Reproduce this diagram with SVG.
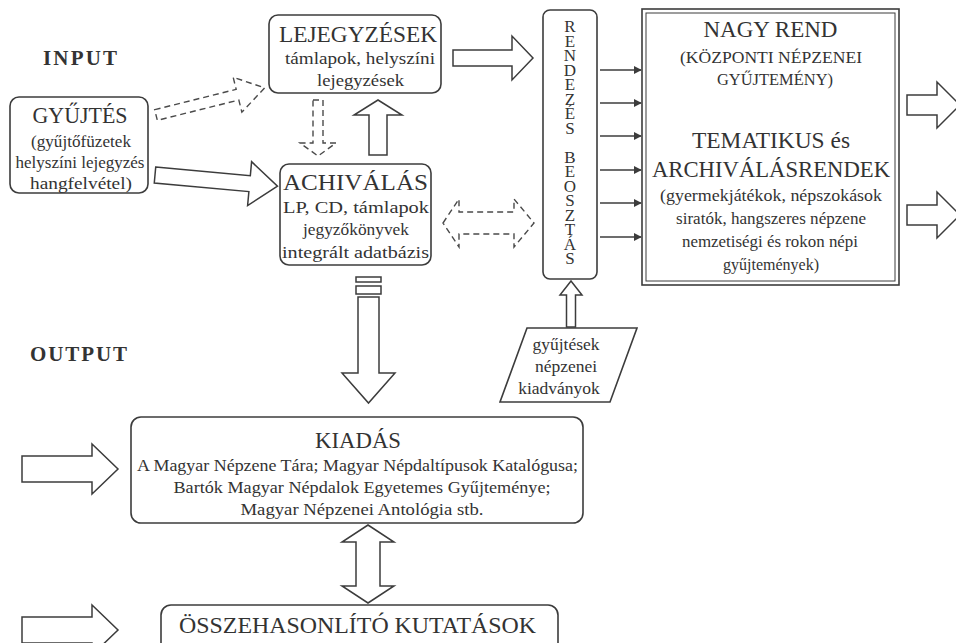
<svg xmlns="http://www.w3.org/2000/svg" width="956" height="643" viewBox="0 0 956 643">
<defs>
<style>
.bg{fill:#ffffff}
.box{fill:#ffffff;stroke:#3c3c3c;stroke-width:1.6}
.arr{fill:#ffffff;stroke:#3c3c3c;stroke-width:1.5;stroke-linejoin:miter}
.dash{fill:none;stroke:#4a4a4a;stroke-width:1.4;stroke-dasharray:6 4}
.ln{stroke:#3c3c3c;stroke-width:1.5;fill:none}
text{font-family:"Liberation Serif","Times New Roman",serif;fill:#333333;text-anchor:middle}
.t{font-size:22.5px}
.b{font-size:17.5px}
.lab{font-size:21px;font-weight:bold;text-anchor:start}
.v{font-size:17px;writing-mode:vertical-rl;text-orientation:upright;letter-spacing:-4.5px;text-anchor:start}
</style>
<marker id="ah" viewBox="0 0 10 10" refX="9" refY="5" markerWidth="8" markerHeight="8" markerUnits="userSpaceOnUse" orient="auto">
<path d="M0,0 L10,5 L0,10 Z" fill="#3c3c3c"/>
</marker>
</defs>
<rect class="bg" x="0" y="0" width="956" height="643"/>

<text class="lab" x="43" y="65" textLength="74" lengthAdjust="spacing">INPUT</text>
<text class="lab" x="30" y="361" textLength="97" lengthAdjust="spacing">OUTPUT</text>

<g id="connectors">
<polygon class="dash" transform="translate(156,115) rotate(-14)" points="0,-5.5 84,-5.5 84,-18 112,0 84,18 84,5.5 0,5.5 Z"/>
<polygon class="arr" transform="translate(155,175) rotate(5.2)" points="0,-8 95,-8 95,-22 123,0 95,22 95,8 0,8"/>
<polygon class="dash" points="313,100 323,100 323,143 336,143 318,156 300,143 313,143 Z"/>
<polygon class="arr" points="369,155 369,115 354,115 378,100 402,115 387,115 387,155"/>
<polygon class="arr" points="453,50 512,50 512,36 533,58 512,80 512,66 453,66"/>
<polygon class="dash" points="443,223 459,199 459,212 514,212 514,199 534,223 514,247 514,234 459,234 459,247 Z"/>
<line class="ln" x1="600" y1="70" x2="641" y2="70" marker-end="url(#ah)"/>
<line class="ln" x1="600" y1="103" x2="641" y2="103" marker-end="url(#ah)"/>
<line class="ln" x1="600" y1="136" x2="641" y2="136" marker-end="url(#ah)"/>
<line class="ln" x1="600" y1="170" x2="641" y2="170" marker-end="url(#ah)"/>
<line class="ln" x1="600" y1="203" x2="641" y2="203" marker-end="url(#ah)"/>
<line class="ln" x1="600" y1="237" x2="641" y2="237" marker-end="url(#ah)"/>
<polygon class="arr" points="907,95 937,95 937,82 960,105 937,128 937,115 907,115"/>
<polygon class="arr" points="907,205 937,205 937,192 960,215 937,238 937,225 907,225"/>
<polygon class="arr" points="566.5,327 566.5,295 560,295 571,281 582,295 575.5,295 575.5,327"/>
<rect class="arr" x="356" y="277" width="25" height="5"/>
<rect class="arr" x="356" y="286" width="25" height="8"/>
<polygon class="arr" points="358,297 379,297 379,373 395,373 368.5,403 342,373 358,373 Z"/>
<polygon class="arr" points="22,456 92,456 92,444 118,469 92,494 92,482 22,482 Z"/>
<polygon class="arr" points="22,617 92,617 92,605 118,630 92,655 92,643 22,643 Z"/>
<polygon class="arr" points="368,525 394,542 380,542 380,586 394,586 368,603 342,586 356,586 356,542 342,542 Z"/>
</g>

<g id="gyujtes">
<rect class="box" x="10" y="97" width="138" height="96" rx="9"/>
<text class="t" x="80" y="123" textLength="95" lengthAdjust="spacingAndGlyphs">GYŰJTÉS</text>
<text class="b" x="81" y="147" textLength="100" lengthAdjust="spacingAndGlyphs">(gyűjtőfüzetek</text>
<text class="b" x="80" y="168" textLength="129" lengthAdjust="spacingAndGlyphs">helyszíni lejegyzés</text>
<text class="b" x="81" y="189" textLength="102" lengthAdjust="spacingAndGlyphs">hangfelvétel)</text>
</g>

<g id="lejegyzesek">
<rect class="box" x="269" y="15" width="172" height="78" rx="9"/>
<text class="t" x="358" y="42" textLength="158" lengthAdjust="spacingAndGlyphs">LEJEGYZÉSEK</text>
<text class="b" x="360" y="64" textLength="150" lengthAdjust="spacingAndGlyphs">támlapok, helyszíni</text>
<text class="b" x="360.5" y="86" textLength="87" lengthAdjust="spacingAndGlyphs">lejegyzések</text>
</g>

<g id="achivalas">
<rect class="box" x="280" y="164" width="151" height="101" rx="9"/>
<text class="t" x="355.5" y="190" textLength="145" lengthAdjust="spacingAndGlyphs">ACHIVÁLÁS</text>
<text class="b" x="356" y="213" textLength="146" lengthAdjust="spacingAndGlyphs">LP, CD, támlapok</text>
<text class="b" x="356" y="235" textLength="106" lengthAdjust="spacingAndGlyphs">jegyzőkönyvek</text>
<text class="b" x="355.5" y="258" textLength="147" lengthAdjust="spacingAndGlyphs">integrált adatbázis</text>
</g>

<g id="rendezes">
<rect class="box" x="543" y="10" width="54" height="269" rx="7"/>
<text class="v" x="570" y="17">RENDEZÉS BEOSZTÁS</text>
</g>

<g id="nagyrend">
<rect class="box" x="642" y="9" width="257" height="276" stroke-width="2"/>
<rect x="646" y="13" width="249" height="268" fill="none" stroke="#3c3c3c" stroke-width="1"/>
<text class="t" x="770.5" y="37" textLength="134" lengthAdjust="spacingAndGlyphs">NAGY REND</text>
<text class="b" x="771" y="63" textLength="182" lengthAdjust="spacingAndGlyphs">(KÖZPONTI NÉPZENEI</text>
<text class="b" x="775" y="85" textLength="116" lengthAdjust="spacingAndGlyphs">GYŰJTEMÉNY)</text>
<text class="t" x="771" y="148" textLength="158" lengthAdjust="spacingAndGlyphs">TEMATIKUS és</text>
<text class="t" x="771" y="177" textLength="238" lengthAdjust="spacingAndGlyphs">ARCHIVÁLÁSRENDEK</text>
<text class="b" x="771" y="201" textLength="222" lengthAdjust="spacingAndGlyphs">(gyermekjátékok, népszokások</text>
<text class="b" x="771" y="224" textLength="190" lengthAdjust="spacingAndGlyphs">siratók, hangszeres népzene</text>
<text class="b" x="770" y="247" textLength="176" lengthAdjust="spacingAndGlyphs">nemzetiségi és rokon népi</text>
<text class="b" x="771" y="270" textLength="96" lengthAdjust="spacingAndGlyphs">gyűjtemények)</text>
</g>

<g id="kiadvanyok">
<polygon class="box" points="527,328 637,328 610,402 500,402"/>
<text class="b" x="566" y="350">gyűjtések</text>
<text class="b" x="566" y="372">népzenei</text>
<text class="b" x="559" y="394">kiadványok</text>
</g>

<g id="kiadas">
<rect class="box" x="131" y="417" width="452" height="106" rx="10"/>
<text class="t" x="358" y="448" textLength="86" lengthAdjust="spacingAndGlyphs">KIADÁS</text>
<text class="b" x="357.5" y="471" textLength="441" lengthAdjust="spacingAndGlyphs">A Magyar Népzene Tára; Magyar Népdaltípusok Katalógusa;</text>
<text class="b" x="362" y="493" textLength="377" lengthAdjust="spacingAndGlyphs">Bartók Magyar Népdalok Egyetemes Gyűjteménye;</text>
<text class="b" x="362" y="515" textLength="243" lengthAdjust="spacingAndGlyphs">Magyar Népzenei Antológia stb.</text>
</g>

<g id="osszehasonlito">
<rect class="box" x="161" y="605" width="397" height="60" rx="10"/>
<text class="t" x="357.5" y="633" textLength="357" lengthAdjust="spacingAndGlyphs">ÖSSZEHASONLÍTÓ KUTATÁSOK</text>
</g>
</svg>
